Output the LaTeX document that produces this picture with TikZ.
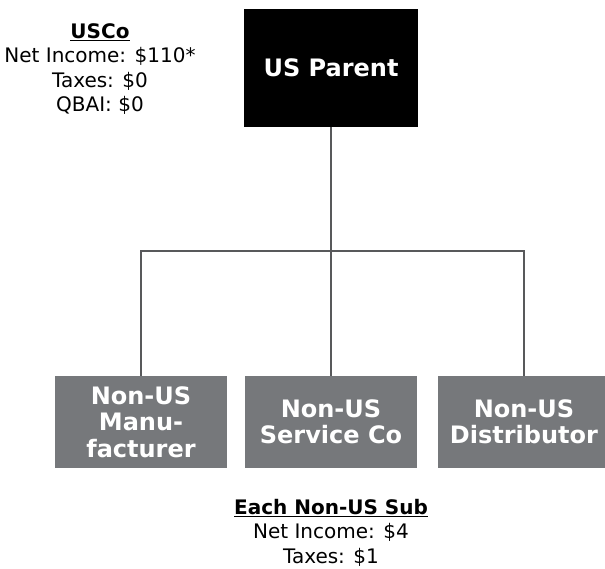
\documentclass[tikz,border=0pt]{standalone}
\usepackage{fontspec}
\setmainfont{DejaVu Sans}
\definecolor{subgray}{HTML}{76787B}
\definecolor{linkgray}{HTML}{58595B}
\begin{document}
\begin{tikzpicture}[x=1pt,y=-1pt,
  entity/.style={rectangle, inner sep=0pt, align=center, text=white,
    font=\bfseries\fontsize{24}{26.5}\selectfont},
  parentbox/.style={entity, fill=black, minimum width=174pt, minimum height=118pt},
  subbox/.style={entity, fill=subgray, minimum width=172pt, minimum height=92pt},
  link/.style={draw=linkgray, line width=2pt},
  note/.style={align=center, inner sep=0pt, font=\fontsize{20}{24.5}\selectfont}]
\useasboundingbox (0,0) rectangle (605,568);

% parent and subsidiaries
\node[parentbox] (parent) at (331,68) {US Parent};
\node[subbox] (mfr) at (141,422) {Non-US\\Manu-\\facturer};
\node[subbox] (svc) at (331,422) {Non-US\\Service Co};
\node[subbox] (dist) at (524,422) {Non-US\\Distributor};

% ownership lines
\coordinate (bus) at (331,251);
\draw[link] (parent.south) -- (svc.north);
\draw[link] (mfr.north) |- (bus) -| (dist.north);

% figures
\node[note] (usco) at (100,69) {\underline{\textbf{USCo}}\\Net Income: \$110*\\Taxes: \$0\\QBAI: \$0};
\node[note] (subs) at (331,532.5) {\underline{\textbf{Each Non-US Sub}}\\Net Income: \$4\\Taxes: \$1};
\end{tikzpicture}
\end{document}
